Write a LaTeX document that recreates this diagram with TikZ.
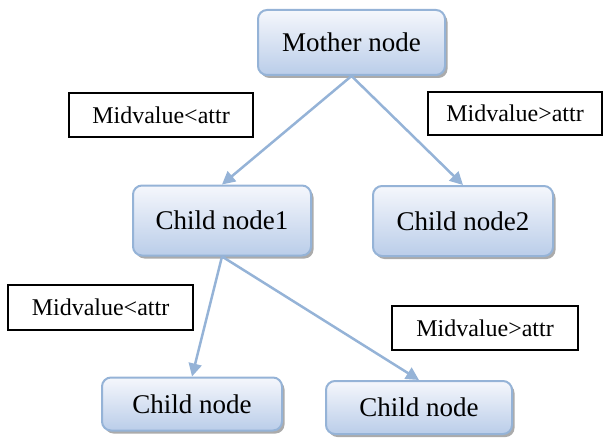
\documentclass[tikz,border=0pt]{standalone}
\usepackage{fontspec}
\setmainfont{Liberation Serif}
\usetikzlibrary{arrows.meta,shadows}
\definecolor{edgeblue}{RGB}{149,179,215}
\definecolor{fillblue}{RGB}{186,205,233}
\definecolor{fillwhite}{RGB}{245,247,252}

\begin{document}
\begin{tikzpicture}[
    x=1pt, y=-1pt,
    tree/.style={rectangle, rounded corners=9pt, draw=edgeblue, line width=2pt,
        top color=fillwhite, bottom color=fillblue, inner sep=0pt,
        drop shadow={shadow xshift=2.5pt, shadow yshift=-3pt, fill=black!55, opacity=0.6},
        font=\fontsize{27}{32}\selectfont},
    cond/.style={rectangle, draw, line width=1.3pt, fill=white, inner sep=0pt,
        font=\fontsize{24}{28}\selectfont},
    link/.style={draw=edgeblue, line width=2.5pt, -{Triangle[length=13pt,width=13pt]}}
]
    \useasboundingbox (0,0) rectangle (604,441);

    % tree nodes
    \node[tree, minimum width=187pt, minimum height=65pt] (mother) at (351.5,42.5) {Mother node};
    \node[tree, minimum width=178pt, minimum height=70pt] (child1) at (222,220.5) {Child node1};
    \node[tree, minimum width=180pt, minimum height=70pt] (child2) at (463,221) {Child node2};
    \node[tree, minimum width=180pt, minimum height=53pt] (leaf1) at (192,404) {Child node};
    \node[tree, minimum width=186pt, minimum height=53pt] (leaf2) at (419,407.5) {Child node};

    % split conditions
    \node[cond, minimum width=184pt, minimum height=44pt] (condl1) at (161,115) {Midvalue<attr};
    \node[cond, minimum width=174pt, minimum height=43pt] (condr1) at (515,113.5) {Midvalue>attr};
    \node[cond, minimum width=185pt, minimum height=45pt] (condl2) at (100.5,307.5) {Midvalue<attr};
    \node[cond, minimum width=186pt, minimum height=44pt] (condr2) at (485,328) {Midvalue>attr};

    \draw[link] (mother.south) -- (child1.north);
    \draw[link] (mother.south) -- (child2.north);
    \draw[link] (child1.south) -- (leaf1.north);
    \draw[link] (child1.south) -- (leaf2.north);
\end{tikzpicture}
\end{document}
